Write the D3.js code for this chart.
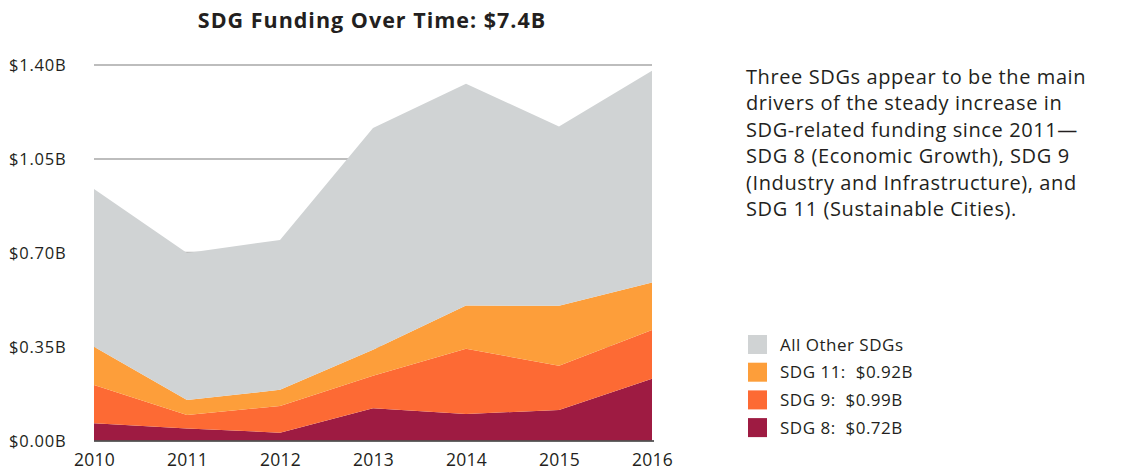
<!DOCTYPE html>
<html>
<head>
<meta charset="utf-8">
<script src="https://cdn.jsdelivr.net/npm/d3@7"></script>
<style>
  body { margin: 0; background: #fff; }
  svg text { font-family: "Open Sans", Lato, sans-serif; fill: #231f20; }
</style>
</head>
<body>
<div class="chart"></div>
<script>
const years = [2010, 2011, 2012, 2013, 2014, 2015, 2016];
const sdg8 = [0.064, 0.045, 0.029, 0.120, 0.099, 0.114, 0.230];
const sdg9 = [0.143, 0.050, 0.100, 0.121, 0.243, 0.165, 0.182];
const sdg11 = [0.143, 0.056, 0.060, 0.097, 0.161, 0.223, 0.177];
const otherSdgs = [0.588, 0.548, 0.559, 0.827, 0.827, 0.669, 0.790];
const yTicks = [0, 0.35, 0.7, 1.05, 1.4];
const seriesKeys = ["sdg8", "sdg9", "sdg11", "other"];
const legendLabels = ["All Other SDGs", "SDG 11:  $0.92B", "SDG 9:  $0.99B", "SDG 8:  $0.72B"];
const legendKeys = ["other", "sdg11", "sdg9", "sdg8"];
const annotation = [
  "Three SDGs appear to be the main",
  "drivers of the steady increase in",
  "SDG-related funding since 2011\u2014",
  "SDG 8 (Economic Growth), SDG 9",
  "(Industry and Infrastructure), and",
  "SDG 11 (Sustainable Cities)."
];

const colors = {
  sdg8: "#9e1b42",
  sdg9: "#fd6a34",
  sdg11: "#fd9e3a",
  other: "#d0d3d4"
};

const w = 1125;
const h = 473;

const table = years.map((y, i) => ({
  year: y,
  sdg8: sdg8[i],
  sdg9: sdg9[i],
  sdg11: sdg11[i],
  other: otherSdgs[i]
}));

const xScale = d3.scaleLinear().domain([2010, 2016]).range([94, 652]);
const yScale = d3.scaleLinear().domain([0, 1.4]).range([440.5, 65]);

const svg = d3.select(".chart").append("svg").attr("width", w).attr("height", h);

// gridlines (sit behind the areas)
svg.append("g")
  .selectAll("line")
  .data(yTicks.filter((d) => d > 0))
  .enter()
  .append("line")
  .attr("x1", xScale(2010))
  .attr("x2", xScale(2016))
  .attr("y1", (d) => yScale(d))
  .attr("y2", (d) => yScale(d))
  .attr("stroke", "#bdbdbd")
  .attr("stroke-width", 2);

const stacked = d3.stack().keys(seriesKeys)(table);

const area = d3.area()
  .x((d) => xScale(d.data.year))
  .y0((d) => yScale(d[0]))
  .y1((d) => yScale(d[1]));

svg.append("g")
  .selectAll("path")
  .data(stacked)
  .enter()
  .append("path")
  .attr("d", area)
  .attr("fill", (d) => colors[d.key]);

// baseline
svg.append("line")
  .attr("x1", xScale(2010))
  .attr("x2", xScale(2016) + 2)
  .attr("y1", yScale(0) + 0.5)
  .attr("y2", yScale(0) + 0.5)
  .attr("stroke", "#333")
  .attr("stroke-width", 1.5);

// y labels
svg.append("g")
  .selectAll("text")
  .data(yTicks)
  .enter()
  .append("text")
  .attr("x", 9)
  .attr("y", (d) => yScale(d) + 6)
  .attr("font-size", 16.5)
  .attr("letter-spacing", 0.8)
  .text((d) => "$" + d.toFixed(2) + "B");

// x axis labels
const xAxis = d3.axisBottom(xScale)
  .tickValues(years)
  .tickFormat(d3.format("d"))
  .tickSize(0)
  .tickPadding(13);

const gx = svg.append("g")
  .attr("transform", "translate(0," + yScale(0) + ")")
  .call(xAxis);
gx.select(".domain").remove();
gx.selectAll("text")
  .attr("font-size", 17.5)
  .attr("letter-spacing", 0.3)
  .style("font-family", "'Open Sans', sans-serif")
  .attr("fill", "#231f20");

// title
svg.append("text")
  .attr("x", 372)
  .attr("y", 28)
  .attr("text-anchor", "middle")
  .attr("font-size", 21.5)
  .attr("font-weight", "bold")
  .attr("letter-spacing", 1)
  .text("SDG Funding Over Time: $7.4B");

// annotation
svg.append("g")
  .selectAll("text")
  .data(annotation)
  .enter()
  .append("text")
  .attr("x", 746)
  .attr("y", (d, i) => 84 + i * 26.4)
  .attr("font-size", 20)
  .attr("letter-spacing", 0.6)
  .text((d) => d);

// legend
const legend = svg.append("g")
  .selectAll("g")
  .data(legendKeys)
  .enter()
  .append("g")
  .attr("transform", (d, i) => "translate(748," + (335 + i * 27.7) + ")");

legend.append("rect")
  .attr("width", 19)
  .attr("height", 19)
  .attr("fill", (d) => colors[d]);

legend.append("text")
  .attr("x", 32)
  .attr("y", 15.5)
  .attr("font-size", 17)
  .attr("letter-spacing", 0.5)
  .style("white-space", "pre")
  .text((d, i) => legendLabels[i]);
</script>
</body>
</html>
